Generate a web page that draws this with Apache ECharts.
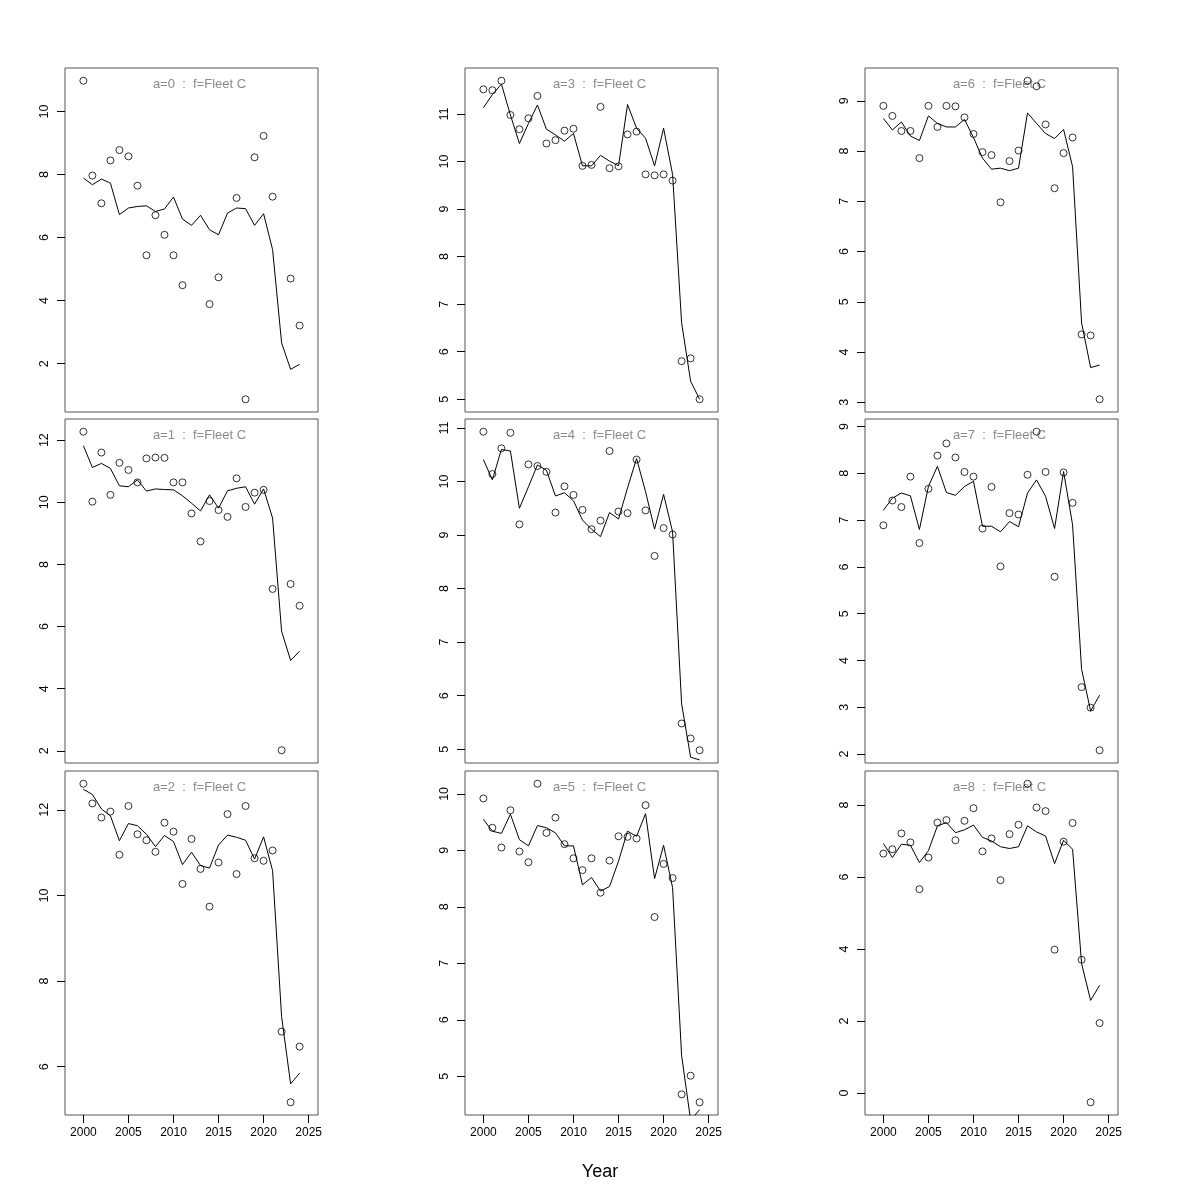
<!DOCTYPE html>
<html>
<head>
<meta charset="utf-8">
<script src="https://cdn.jsdelivr.net/npm/echarts@6/dist/echarts.min.js"></script>
<style>html,body{margin:0;padding:0;background:#fff;}#main{width:1200px;height:1200px;}</style>
</head>
<body>
<div id="main"></div>
<script>
const years = [2000,2001,2002,2003,2004,2005,2006,2007,2008,2009,2010,2011,2012,2013,2014,2015,2016,2017,2018,2019,2020,2021,2022,2023,2024];
const panelTitles = ['a=0  :  f=Fleet C','a=1  :  f=Fleet C','a=2  :  f=Fleet C','a=3  :  f=Fleet C','a=4  :  f=Fleet C','a=5  :  f=Fleet C','a=6  :  f=Fleet C','a=7  :  f=Fleet C','a=8  :  f=Fleet C'];
const xTicks = [2000,2005,2010,2015,2020,2025];
const xLabel = 'Year';

// observed (points) per age
const obs0 = [10.98,7.97,7.09,8.45,8.78,8.58,7.65,5.44,6.71,6.09,5.44,4.49,null,null,3.89,4.74,null,7.26,0.87,8.55,9.23,7.30,null,4.70,3.21];
const obs1 = [12.27,10.02,11.60,10.24,11.27,11.04,10.64,11.41,11.44,11.43,10.64,10.64,9.64,8.74,10.04,9.75,9.53,10.77,9.85,10.31,10.40,7.21,2.02,7.37,6.67];
const obs2 = [12.61,12.15,11.82,11.96,10.95,12.09,11.43,11.29,11.02,11.70,11.49,10.27,11.32,10.62,9.74,10.77,11.90,10.50,12.09,10.87,10.81,11.05,6.82,5.17,6.47];
const obs3 = [11.52,11.50,11.70,10.98,10.68,10.91,11.38,10.38,10.45,10.65,10.69,9.91,9.93,11.15,9.86,9.90,10.57,10.63,9.73,9.71,9.73,9.60,5.80,5.86,5.00];
const obs4 = [10.93,10.14,10.62,10.91,9.20,10.32,10.29,10.18,9.42,9.91,9.75,9.47,9.11,9.27,10.57,9.44,9.41,10.41,9.46,8.61,9.13,9.01,5.48,5.20,4.98];
const obs5 = [9.92,9.40,9.05,9.71,8.98,8.79,10.18,9.31,9.58,9.11,8.86,8.65,8.86,8.25,8.82,9.25,9.24,9.21,9.80,7.82,8.76,8.51,4.68,5.01,4.54];
const obs6 = [8.90,8.70,8.40,8.40,7.86,8.90,8.48,8.90,8.89,8.67,8.34,7.98,7.92,6.98,7.80,8.01,9.40,9.29,8.53,7.26,7.96,8.27,4.35,4.33,3.06];
const obs7 = [6.89,7.42,7.28,7.93,6.51,7.67,8.38,8.64,8.34,8.03,7.93,6.82,7.71,6.01,7.15,7.12,7.97,8.89,8.03,5.79,8.02,7.37,3.43,2.99,2.08];
const obs8 = [6.65,6.77,7.21,6.96,5.66,6.54,7.51,7.58,7.02,7.56,7.91,6.71,7.07,5.91,7.19,7.45,8.59,7.93,7.83,3.98,6.98,7.50,3.70,-0.26,1.94];

// fitted (lines) per age
const fit0 = [7.89,7.68,7.86,7.73,6.73,6.94,6.99,7.01,6.83,6.91,7.29,6.59,6.39,6.71,6.25,6.09,6.78,6.94,6.92,6.39,6.76,5.62,2.66,1.82,1.98];
const fit1 = [11.82,11.12,11.25,11.09,10.53,10.50,10.72,10.36,10.43,10.41,10.40,10.21,9.97,9.72,10.24,9.81,10.37,10.45,10.50,9.94,10.43,9.49,5.85,4.91,5.21];
const fit2 = [12.48,12.36,12.02,11.86,11.28,11.68,11.63,11.43,11.14,11.40,11.26,10.72,11.01,10.70,10.64,11.18,11.41,11.36,11.29,10.85,11.37,10.58,7.17,5.60,5.85];
const fit3 = [11.13,11.41,11.63,10.98,10.38,10.80,11.19,10.68,10.56,10.43,10.59,9.91,9.91,10.13,10.01,9.91,11.20,10.70,10.49,9.91,10.70,9.73,6.61,5.38,5.00];
const fit4 = [10.41,10.03,10.60,10.57,9.50,9.90,10.31,10.21,9.73,9.79,9.64,9.28,9.11,8.97,9.42,9.30,9.88,10.43,9.81,9.11,9.76,9.06,5.85,4.85,4.80];
const fit5 = [9.55,9.34,9.30,9.64,9.19,9.08,9.44,9.40,9.31,9.08,9.08,8.39,8.52,8.28,8.36,8.81,9.34,9.25,9.65,8.50,9.09,8.34,5.37,4.22,4.41];
const fit6 = [8.65,8.42,8.58,8.30,8.21,8.70,8.55,8.48,8.48,8.63,8.27,7.86,7.64,7.66,7.61,7.66,8.76,8.55,8.35,8.25,8.43,7.69,4.58,3.69,3.74];
const fit7 = [7.21,7.47,7.58,7.52,6.80,7.72,8.15,7.59,7.53,7.72,7.83,6.87,6.87,6.75,6.97,6.86,7.58,7.86,7.51,6.82,8.04,6.90,3.81,2.92,3.26];
const fit8 = [6.93,6.54,6.91,6.88,6.40,6.73,7.42,7.51,7.23,7.31,7.44,7.10,7.00,6.84,6.79,6.84,7.42,7.25,7.14,6.37,7.02,6.77,3.59,2.57,2.99];

// y tick labels per panel
const yTicks0 = [2,4,6,8,10];
const yTicks1 = [2,4,6,8,10,12];
const yTicks2 = [6,8,10,12];
const yTicks3 = [5,6,7,8,9,10,11];
const yTicks4 = [5,6,7,8,9,10,11];
const yTicks5 = [5,6,7,8,9,10];
const yTicks6 = [3,4,5,6,7,8,9];
const yTicks7 = [2,3,4,5,6,7,8,9];
const yTicks8 = [0,2,4,6,8];

const obsAll = [obs0,obs1,obs2,obs3,obs4,obs5,obs6,obs7,obs8];
const fitAll = [fit0,fit1,fit2,fit3,fit4,fit5,fit6,fit7,fit8];
const yTicksAll = [yTicks0,yTicks1,yTicks2,yTicks3,yTicks4,yTicks5,yTicks6,yTicks7,yTicks8];

const FONT = 'Liberation Sans, Arial, Helvetica, sans-serif';
const colLeft = [65, 465, 865];
const rowTop = [68, 419, 771];
const gw = 253, gh = 344;

const grids = [], xAxes = [], yAxes = [], series = [], graphics = [];
// x range: R style 4% extension of c(1999, 2025)
const xr0 = 1999, xr1 = 2025, xext = (xr1 - xr0) * 0.04;

for (let a = 0; a < 9; a++) {
  const col = Math.floor(a / 3), row = a % 3;
  const left = colLeft[col], top = rowTop[row];
  grids.push({left: left, top: top, width: gw, height: gh, show: true, borderColor: '#555', borderWidth: 1, backgroundColor: 'transparent'});
  const vals = obsAll[a].filter(v => v !== null);
  const lo = Math.min(...vals), hi = Math.max(...vals);
  const ext = (hi - lo) * 0.04;
  const bottomRow = row === 2;
  xAxes.push({
    type: 'value', gridIndex: a, min: xr0 - xext, max: xr1 + xext,
    show: bottomRow, position: 'bottom',
    axisLine: {show: false, onZero: false},
    axisTick: {show: true, inside: false, length: 8, lineStyle: {color: '#000'}, customValues: xTicks},
    axisLabel: {show: true, customValues: xTicks, formatter: v => String(v), color: '#000', fontSize: 12, fontFamily: FONT, margin: 12},
    splitLine: {show: false}
  });
  yAxes.push({
    type: 'value', gridIndex: a, min: lo - ext, max: hi + ext, position: 'left',
    axisLine: {show: false, onZero: false},
    axisTick: {show: true, inside: false, length: 8, lineStyle: {color: '#000'}, customValues: yTicksAll[a]},
    axisLabel: {show: true, customValues: yTicksAll[a], formatter: v => String(v), rotate: 90, color: '#000', fontSize: 12.5, fontFamily: FONT, margin: 14},
    splitLine: {show: false}
  });
  series.push({
    type: 'line', xAxisIndex: a, yAxisIndex: a,
    data: years.map((y, i) => [y, fitAll[a][i]]),
    showSymbol: false, symbol: 'none', clip: true,
    lineStyle: {color: '#000', width: 1}, silent: true, animation: false
  });
  series.push({
    type: 'scatter', xAxisIndex: a, yAxisIndex: a,
    data: years.map((y, i) => [y, obsAll[a][i]]).filter(d => d[1] !== null),
    symbol: 'circle', symbolSize: 7, clip: true,
    itemStyle: {color: 'rgba(0,0,0,0)', borderColor: '#000', borderWidth: 1},
    silent: true, animation: false
  });
  graphics.push({
    type: 'text', x: left + gw / 2 + 8, y: top + 16,
    style: {text: panelTitles[a], textAlign: 'center', textVerticalAlign: 'middle', fill: '#8a8a8a', font: '13px ' + FONT}
  });
}
graphics.push({
  type: 'text', x: 600, y: 1172,
  style: {text: xLabel, textAlign: 'center', textVerticalAlign: 'middle', fill: '#000', font: '18px ' + FONT}
});

const chart = echarts.init(document.getElementById('main'), null, {renderer: 'canvas'});
chart.setOption({
  animation: false,
  backgroundColor: '#fff',
  grid: grids, xAxis: xAxes, yAxis: yAxes, series: series, graphic: graphics
});
</script>
</body>
</html>
